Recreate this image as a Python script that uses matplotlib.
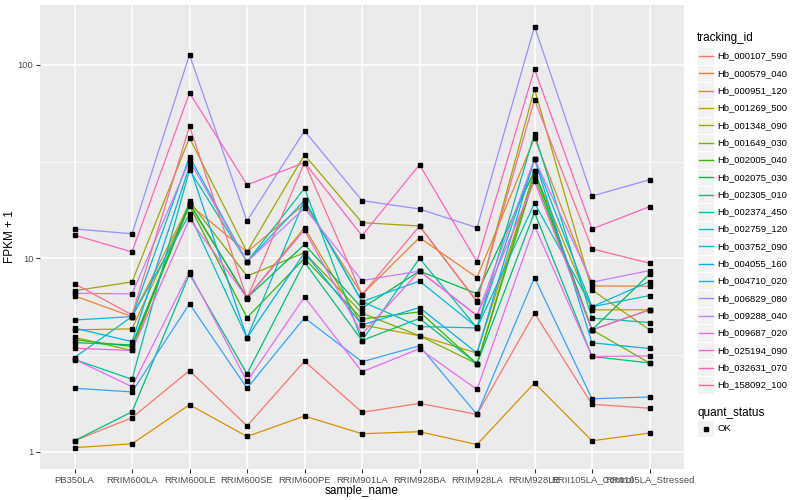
import numpy as np
import matplotlib
matplotlib.use("Agg")
import matplotlib.pyplot as plt
from matplotlib.lines import Line2D
from matplotlib.patches import Rectangle
from matplotlib.ticker import FixedLocator, NullFormatter

plt.rcParams['font.family'] = ['Liberation Sans', 'DejaVu Sans']

samples = ["PB350LA", "RRIM600LA", "RRIM600LE", "RRIM600SE", "RRIM600PE", "RRIM901LA",
           "RRIM928BA", "RRIM928LA", "RRIM928LE", "RRII105LA_Control", "RRII105LA_Stressed"]

tracking_ids = ["Hb_000107_590", "Hb_000579_040", "Hb_000951_120", "Hb_001269_500",
                "Hb_001348_090", "Hb_001649_030", "Hb_002005_040", "Hb_002075_030",
                "Hb_002305_010", "Hb_002374_450", "Hb_002759_120", "Hb_003752_090",
                "Hb_004055_160", "Hb_004710_020", "Hb_006829_080", "Hb_009288_040",
                "Hb_009687_020", "Hb_025194_090", "Hb_032631_070", "Hb_158092_100"]

colors = ["#F8766D", "#EA8331", "#D89000", "#C09B00", "#A3A500", "#7CAE00", "#39B600",
          "#00BB4E", "#00BF7D", "#00C1A3", "#00BFC4", "#00BAE0", "#00B0F6", "#35A2FF",
          "#9590FF", "#C77CFF", "#E76BF3", "#FA62DB", "#FF62BC", "#FF6C91"]

# FPKM + 1 values, one list per tracking_id, in sample order
hb_000107_590 = [1.14, 1.50, 2.63, 1.36, 2.94, 1.60, 1.78, 1.56, 5.21, 1.76, 1.68]
hb_000579_040 = [6.40, 5.00, 19.0, 10.8, 19.1, 6.50, 12.8, 7.96, 42.0, 7.20, 7.18]
hb_000951_120 = [1.05, 1.10, 1.75, 1.20, 1.53, 1.24, 1.27, 1.09, 2.27, 1.14, 1.25]
hb_001269_500 = [4.27, 4.32, 19.0, 6.25, 14.4, 4.53, 3.98, 3.24, 28.0, 5.42, 5.42]
hb_001348_090 = [6.80, 7.56, 42.0, 10.8, 34.3, 15.3, 14.7, 5.96, 75.2, 6.87, 4.27]
hb_001649_030 = [3.90, 3.34, 19.7, 8.10, 10.7, 5.21, 3.98, 2.85, 28.3, 4.27, 2.88]
hb_002005_040 = [3.80, 3.50, 18.7, 4.94, 10.0, 4.85, 5.29, 2.85, 26.5, 4.27, 5.42]
hb_002075_030 = [3.67, 3.57, 19.3, 6.25, 11.8, 5.53, 8.60, 6.56, 28.3, 4.27, 8.30]
hb_002305_010 = [1.14, 1.61, 8.30, 2.53, 9.56, 3.76, 4.89, 2.85, 17.3, 3.11, 2.88]
hb_002374_450 = [3.00, 2.37, 28.7, 9.60, 23.0, 3.76, 10.0, 4.37, 44.2, 4.91, 4.66]
hb_002759_120 = [3.07, 5.00, 16.9, 3.88, 20.0, 5.98, 4.44, 4.37, 19.3, 5.62, 6.42]
hb_003752_090 = [4.80, 5.00, 33.6, 9.60, 20.0, 5.98, 7.63, 4.40, 32.7, 5.62, 7.59]
hb_004055_160 = [4.36, 3.71, 30.0, 3.88, 10.7, 4.53, 5.57, 3.24, 32.7, 3.66, 3.42]
hb_004710_020 = [2.13, 2.04, 5.82, 2.13, 4.93, 2.92, 3.53, 1.56, 7.96, 1.88, 1.92]
hb_006829_080 = [14.2, 13.4, 113., 15.6, 45.6, 19.9, 18.0, 14.4, 158., 21.0, 25.5]
hb_009288_040 = [6.60, 6.55, 32.0, 9.60, 18.2, 7.68, 8.60, 5.06, 32.7, 7.53, 8.65]
hb_009687_020 = [3.01, 2.17, 8.50, 2.31, 6.32, 2.59, 3.41, 2.10, 14.7, 3.11, 3.13]
hb_025194_090 = [3.43, 3.34, 16.0, 6.25, 14.0, 4.06, 8.60, 5.06, 25.0, 4.27, 5.42]
hb_032631_070 = [13.2, 10.8, 71.7, 24.0, 31.3, 13.1, 30.5, 9.60, 95.3, 14.2, 18.5]
hb_158092_100 = [7.40, 5.10, 48.2, 6.20, 31.3, 6.50, 14.7, 6.00, 66.2, 11.2, 9.45]

series = [hb_000107_590, hb_000579_040, hb_000951_120, hb_001269_500, hb_001348_090,
          hb_001649_030, hb_002005_040, hb_002075_030, hb_002305_010, hb_002374_450,
          hb_002759_120, hb_003752_090, hb_004055_160, hb_004710_020, hb_006829_080,
          hb_009288_040, hb_009687_020, hb_025194_090, hb_032631_070, hb_158092_100]

W, H = 800, 500
fig = plt.figure(figsize=(8, 5), dpi=100)
L, R, T, B = 40, 684, 5, 469
ax = fig.add_axes([L / W, 1 - B / H, (R - L) / W, (B - T) / H])
ax.set_facecolor('#EBEBEB')
ax.set_yscale('log')
ax.set_ylim(10 ** -0.089, 10 ** 2.31)
ax.set_xlim(-0.6, len(samples) - 1 + 0.6)

x = np.arange(len(samples))
for vals, col in zip(series, colors):
    ax.plot(x, vals, color=col, lw=0.9, zorder=3)
for vals in series:
    ax.plot(x, vals, ls='none', marker='s', ms=2.6, color='black', zorder=4)

ax.yaxis.set_major_locator(FixedLocator([1, 10, 100]))
ax.yaxis.set_minor_locator(FixedLocator([10 ** 0.5, 10 ** 1.5]))
ax.yaxis.set_minor_formatter(NullFormatter())
ax.set_yticklabels(["1", "10", "100"])
ax.set_xticks(x)
ax.set_xticklabels(samples)
ax.grid(which='major', color='white', lw=1.1, zorder=1)
ax.grid(which='minor', axis='y', color='white', lw=0.55, zorder=1)
ax.set_axisbelow(True)
for s in ax.spines.values():
    s.set_visible(False)
ax.tick_params(axis='both', which='major', length=2.7, width=0.8, color='#333333',
               labelsize=6.8, labelcolor='#4D4D4D', pad=2)
ax.tick_params(axis='y', which='minor', length=0)
ax.set_xlabel("sample_name", fontsize=8.5, labelpad=0)
ax.set_ylabel("FPKM + 1", fontsize=8.5, labelpad=1.5)

# legend: tracking_id
lx = 697
fig.text(lx / W, 1 - 38 / H, "tracking_id", fontsize=8.5, va='center', ha='left')
ks = 17.3
y0 = 47.5
for i, (name, col) in enumerate(zip(tracking_ids, colors)):
    yt = y0 + i * ks
    fig.add_artist(Rectangle((lx / W, 1 - (yt + ks) / H), ks / W, ks / H,
                             transform=fig.transFigure, facecolor='#F2F2F2',
                             edgecolor='white', lw=0.8))
    yc = yt + ks / 2
    fig.add_artist(Line2D([(lx + 1.7) / W, (lx + ks - 1.7) / W], [1 - yc / H, 1 - yc / H],
                          transform=fig.transFigure, color=col, lw=1.0))
    fig.text((lx + ks + 3) / W, 1 - yc / H, name, fontsize=6.8, va='center', ha='left')

# legend: quant_status
fig.text(lx / W, 1 - 413 / H, "quant_status", fontsize=8.5, va='center', ha='left')
yt = 420
fig.add_artist(Rectangle((lx / W, 1 - (yt + ks) / H), ks / W, ks / H,
                         transform=fig.transFigure, facecolor='#F2F2F2',
                         edgecolor='white', lw=0.8))
yc = yt + ks / 2
fig.add_artist(Line2D([(lx + ks / 2) / W], [1 - yc / H], transform=fig.transFigure,
                      marker='s', ms=2.6, color='black', ls='none'))
fig.text((lx + ks + 3) / W, 1 - yc / H, "OK", fontsize=6.8, va='center', ha='left')

fig.savefig("out.png", dpi=100)
